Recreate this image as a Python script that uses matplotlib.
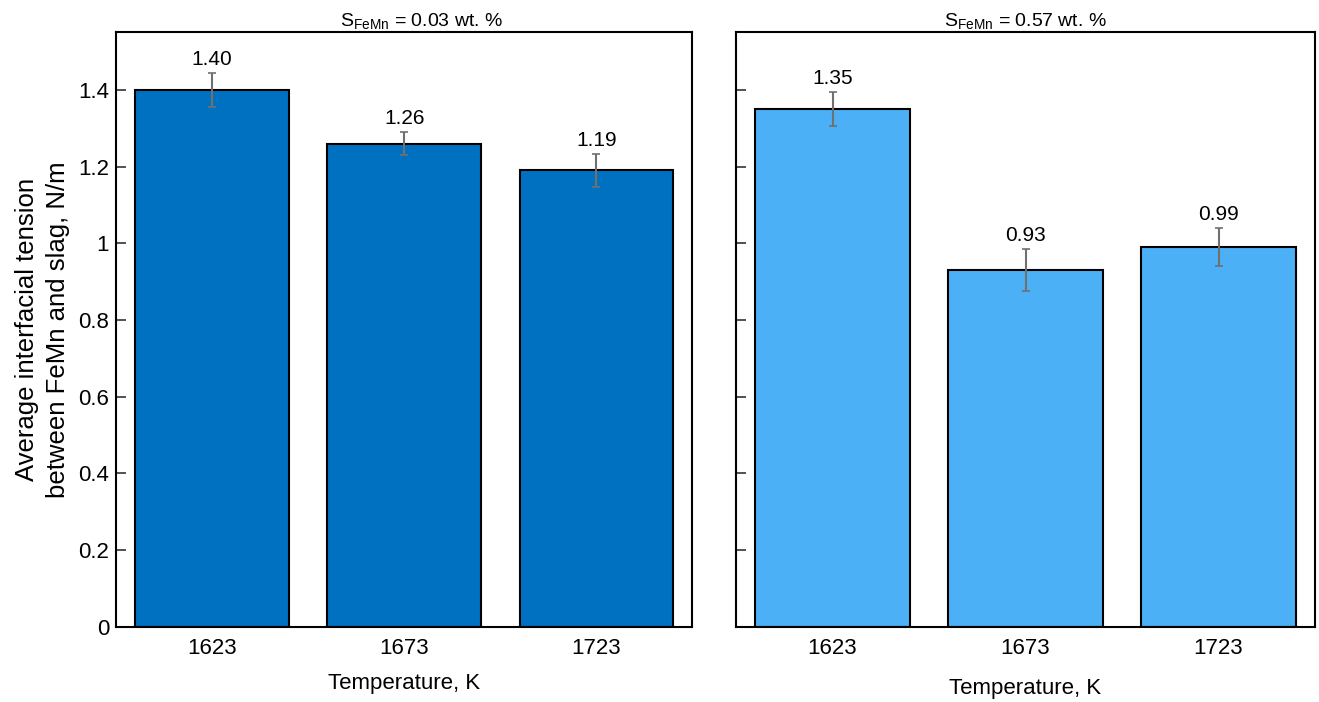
import numpy as np
import matplotlib
matplotlib.use("Agg")
import matplotlib.pyplot as plt

plt.rcParams['font.family'] = ['Liberation Sans', 'DejaVu Sans']

temps = ['1623', '1673', '1723']
tension_low = [1.40, 1.26, 1.19]
err_low = [0.045, 0.03, 0.043]
tension_high = [1.35, 0.93, 0.99]
err_high = [0.045, 0.055, 0.05]
titles = ['S$_{\\mathregular{FeMn}}$ = 0.03 wt. %', 'S$_{\\mathregular{FeMn}}$ = 0.57 wt. %']
colors = ['#0070C0', '#4BB0F5']

fig = plt.figure(figsize=(13.19, 7.02), dpi=100)
ax1 = fig.add_axes([0.088, 0.107, 0.437, 0.847])
ax2 = fig.add_axes([0.558, 0.107, 0.439, 0.847])

panels = [(ax1, tension_low, err_low), (ax2, tension_high, err_high)]
for i, (ax, vals, errs) in enumerate(panels):
    x = np.arange(len(temps))
    ax.bar(x, vals, width=0.8, color=colors[i], edgecolor='black', linewidth=1.5, zorder=2)
    ax.errorbar(x, vals, yerr=errs, fmt='none', ecolor='#707070', elinewidth=1.5,
                capsize=3, capthick=1.2, zorder=3)
    for xi, v, e in zip(x, vals, errs):
        ax.text(xi, v + e + 0.01, f'{v:.2f}', ha='center', va='bottom', fontsize=15)
    ax.set_xlim(-0.5, 2.5)
    ax.set_ylim(0, 1.55)
    ax.set_xticks(x)
    ax.set_xticklabels(temps)
    ax.set_yticks([0, 0.2, 0.4, 0.6, 0.8, 1.0, 1.2, 1.4])
    ax.tick_params(direction='in', length=7, width=1.2, labelsize=16,
                   color='#333333')
    ax.tick_params(axis='x', pad=8)
    ax.tick_params(axis='y', pad=5)
    for s in ax.spines.values():
        s.set_linewidth(1.5)

ax1.set_title(titles[0], fontsize=14, pad=4, x=0.53)
ax2.set_title(titles[1], fontsize=14, pad=4)
ax1.set_yticklabels(['0', '0.2', '0.4', '0.6', '0.8', '1', '1.2', '1.4'])
ax2.set_yticklabels([])
ax1.set_xlabel('Temperature, K', fontsize=16, labelpad=10)
ax2.set_xlabel('Temperature, K', fontsize=16, labelpad=14)
ax1.set_ylabel('Average interfacial tension\nbetween FeMn and slag, N/m', fontsize=18.5,
               labelpad=6, linespacing=1.35)

fig.savefig('out.png', dpi=100)
